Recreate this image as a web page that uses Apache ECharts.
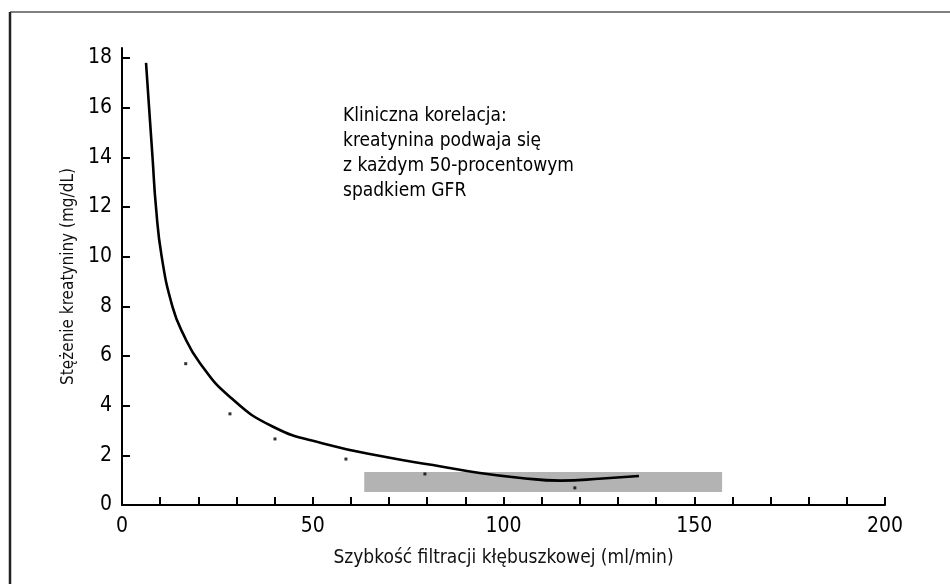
<!DOCTYPE html>
<html><head><meta charset="utf-8">
<script src="https://cdn.jsdelivr.net/npm/echarts@6/dist/echarts.min.js"></script>
<style>html,body{margin:0;padding:0;background:#fff}#c{width:950px;height:584px}</style>
</head><body><div id="c"></div>
<script>
const FONT = '"Liberation Sans Narrow","DejaVu Sans Condensed",sans-serif';
const xTickValues = [0,10,20,30,40,50,60,70,80,90,100,110,120,130,140,150,160,170,180,190,200];
const xLabelValues = [0,50,100,150,200];
const yLabelValues = [0,2,4,6,8,10,12,14,16,18];
const curve = [[6.3,17.8],[7.1,16.0],[8.0,14.0],[8.9,12.0],[10.4,10.0],[13.2,8.0],[16.0,6.9],[20.4,5.72],[28.3,4.35],[39.6,3.15],[52.7,2.48],[70.2,1.9],[81.5,1.61],[93.8,1.29],[104,1.1],[115,0.98],[126,1.07],[135.5,1.17]];
const dots = [[16.7,5.69],[28.3,3.67],[40.1,2.66],[58.7,1.85],[79.4,1.25],[118.7,0.69]];
const normalRange = [[63.5,1.33],[157.3,0.52]];
const annotation = ['Kliniczna korelacja:','kreatynina podwaja się','z każdym 50-procentowym','spadkiem GFR'];

const chart = echarts.init(document.getElementById('c'));
chart.setOption({
  animation:false,
  backgroundColor:'#fff',
  grid:{left:122,right:65,top:48,bottom:79},
  xAxis:{type:'value',min:0,max:200,
    name:'Szybkość filtracji kłębuszkowej (ml/min)',nameLocation:'middle',nameGap:44,
    nameTextStyle:{fontFamily:FONT,fontSize:19,color:'#111'},
    axisLine:{lineStyle:{color:'#000',width:2}},
    axisTick:{inside:true,length:8,lineStyle:{color:'#000',width:2},customValues:xTickValues},
    axisLabel:{fontFamily:FONT,fontSize:21,color:'#000',margin:11,customValues:xLabelValues},
    splitLine:{show:false}},
  yAxis:{type:'value',min:0,max:18.4,
    name:'Stężenie kreatyniny (mg/dL)',nameLocation:'middle',nameGap:45,
    nameTextStyle:{fontFamily:FONT,fontSize:17,color:'#111'},
    axisLine:{show:true,lineStyle:{color:'#000',width:2}},
    axisTick:{show:true,inside:true,length:8,lineStyle:{color:'#000',width:2},customValues:yLabelValues},
    axisLabel:{fontFamily:FONT,fontSize:21,color:'#000',margin:10,customValues:yLabelValues},
    splitLine:{show:false}},
  graphic:[
    {type:'line',shape:{x1:10,y1:12,x2:950,y2:12},style:{stroke:'#808080',lineWidth:2},silent:true},
    {type:'line',shape:{x1:10,y1:12,x2:10,y2:584},style:{stroke:'#222',lineWidth:2.5},silent:true},
    {type:'text',left:343,top:104,style:{text:annotation.join('\n'),fontFamily:FONT,fontSize:19,lineHeight:25,fill:'#000'}}
  ],
  series:[
    {type:'scatter',data:dots,symbol:'rect',symbolSize:3,itemStyle:{color:'#000'},z:3,
     markArea:{silent:true,itemStyle:{color:'#b3b3b3'},data:[[{coord:normalRange[0]},{coord:normalRange[1]}]]}},
    {type:'line',data:curve,smooth:0.5,showSymbol:false,lineStyle:{color:'#000',width:2.6},z:4}
  ]
});
</script></body></html>
